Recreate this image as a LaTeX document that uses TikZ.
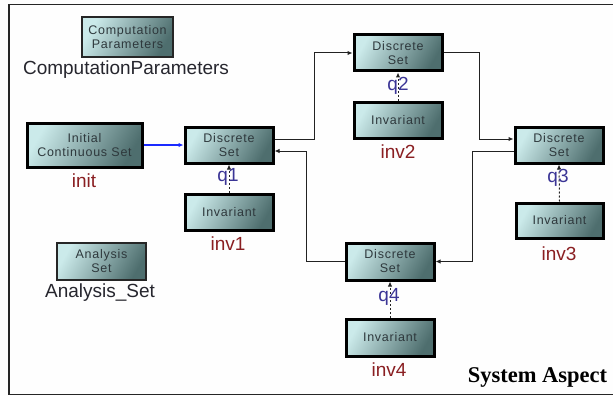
\documentclass[tikz,border=0pt]{standalone}
\usepackage{fontspec}
\setmainfont{Liberation Sans}
\newfontfamily\boxfont[LetterSpace=6]{Liberation Sans}
\newfontfamily\titlefont{Liberation Serif}
\usetikzlibrary{arrows.meta}
\definecolor{boxlight}{HTML}{CBEAEA}
\definecolor{boxdark}{HTML}{4E6E6E}
\definecolor{boxtext}{HTML}{2E383C}
\definecolor{namered}{HTML}{8A1F22}
\definecolor{nameblue}{HTML}{3B3596}
\definecolor{namegray}{HTML}{26262E}
\definecolor{wire}{HTML}{222222}
\definecolor{initblue}{HTML}{1A2AFF}
\tikzset{
  block/.style={draw=black, line width=3pt, left color=boxlight, right color=boxdark,
    shading angle=60, minimum width=88pt, minimum height=36pt, inner sep=0pt,
    align=center, text=boxtext, font=\boxfont\fontsize{12.5}{14}\selectfont},
  thinblock/.style={block, line width=2pt, draw=black!85},
  lbl/.style={font=\fontsize{19}{22}\selectfont, inner sep=0pt},
  flow/.style={draw=wire, line width=1pt, -{Latex[length=5pt,width=4.5pt]}},
  initflow/.style={draw=initblue, line width=1.1pt, -{Latex[length=5pt,width=4.5pt]}},
  invlink/.style={draw=wire, line width=1pt, dash pattern=on 2pt off 2pt,
    -{Latex[length=5pt,width=4.5pt]}},
}
\begin{document}
\begin{tikzpicture}[x=1pt, y=-1pt]
  \useasboundingbox (0,0) rectangle (613,396);
  \fill[white!99!gray] (0,0) rectangle (613,396);
  % frame
  \draw[line width=1.3pt, draw=black!85] (613,4.5) -- (9,4.5) -- (9,394.5) -- (613,394.5);

  % side blocks
  \node[thinblock, minimum width=91pt, minimum height=40pt] (cp) at (127.5,37) {Computation\\Parameters};
  \node[lbl, text=namegray] (cpname) at (126,70) {ComputationParameters};
  \node[thinblock, minimum width=89pt, minimum height=37pt] (an) at (101.5,261.5) {Analysis\\Set};
  \node[lbl, text=namegray] (anname) at (100,293) {Analysis\_Set};

  % initial set
  \node[block, minimum width=115pt, minimum height=44pt] (init) at (84.5,145) {Initial\\Continuous Set};
  \node[lbl, text=namered] (initname) at (84,181) {init};

  % discrete sets
  \node[block] (q1) at (229,145) {Discrete\\Set};
  \node[block] (q2) at (398,53) {Discrete\\Set};
  \node[block] (q3) at (559,145) {Discrete\\Set};
  \node[block, minimum height=37pt] (q4) at (390,261.5) {Discrete\\Set};

  % invariants
  \node[block] (inv1) at (229,212) {Invariant};
  \node[block] (inv2) at (398,120) {Invariant};
  \node[block, minimum width=87pt, minimum height=35pt] (inv3) at (559.5,220.5) {Invariant};
  \node[block, minimum height=37pt] (inv4) at (390,337.5) {Invariant};

  % invariant links
  \draw[invlink] (inv1.north) -- (q1.south);
  \draw[invlink] (inv2.north) -- (q2.south);
  \draw[invlink] (inv3.north) -- (q3.south);
  \draw[invlink] (inv4.north) -- (q4.south);

  % names
  \node[lbl, text=nameblue] (q1name) at (228,177) {q1};
  \node[lbl, text=nameblue] (q2name) at (398,86) {q2};
  \node[lbl, text=nameblue] (q3name) at (558,178) {q3};
  \node[lbl, text=nameblue] (q4name) at (389,297) {q4};
  \node[lbl, text=namered] (inv1name) at (228,244) {inv1};
  \node[lbl, text=namered] (inv2name) at (398,152) {inv2};
  \node[lbl, text=namered] (inv3name) at (559,254) {inv3};
  \node[lbl, text=namered] (inv4name) at (389,370) {inv4};

  % transitions
  \draw[initflow] (init.east) -- (q1.west);
  \draw[flow] ([yshift=6pt]q1.east) -- ++(40,0) |- (q2.west);
  \draw[flow] (q2.east) -- ++(36,0) |- ([yshift=6pt]q3.west);
  \draw[flow] ([yshift=-6pt]q3.west) -- ++(-41,0) |- (q4.east);
  \draw[flow] (q4.west) -- ++(-38,0) |- ([yshift=-6pt]q1.east);

  % caption
  \node[font=\titlefont\bfseries\fontsize{22.5}{26}\selectfont, inner sep=0pt] (title) at (537.5,377) {System Aspect};
\end{tikzpicture}
\end{document}
